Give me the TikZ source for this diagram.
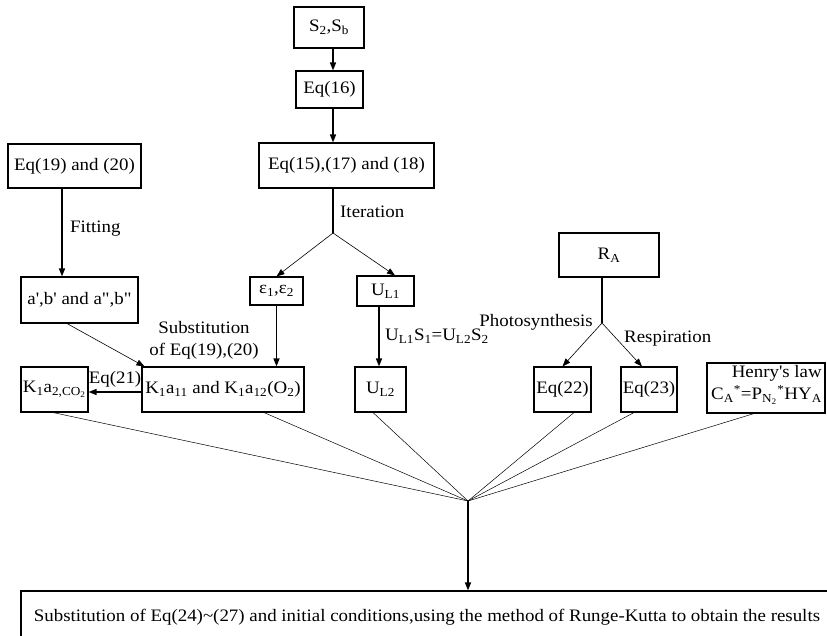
\documentclass[tikz,border=0pt]{standalone}
\usepackage{fontspec}
\setmainfont{Liberation Serif}[FakeStretch=1.08, Ligatures=TeXOff]
\usetikzlibrary{arrows.meta}
\begin{document}
\begin{tikzpicture}[x=1pt,y=-1pt,
  font=\fontsize{17.5}{22}\selectfont,
  box/.style={draw, line width=1.1pt, inner sep=0pt, align=center},
  thk/.style={line width=1.3pt, -{Triangle[length=8pt,width=6pt]}},
  thkline/.style={line width=1.3pt},
  thn/.style={line width=0.6pt, -{Triangle[length=8pt,width=6pt]}},
  thnline/.style={line width=0.5pt},
  lbl/.style={inner sep=0pt}]
\useasboundingbox (0,0) rectangle (827,636);
\clip (0,0) rectangle (827,636);
\fill[white] (0,0) rectangle (827,636);

% boxes
\node[box, minimum width=70pt, minimum height=41pt] (s2sb) at (329,27.5) {S\textsubscript{2},S\textsubscript{b}};
\node[box, minimum width=67pt, minimum height=37pt] (eq16) at (329.5,89.5) {Eq(16)};
\node[box, minimum width=175pt, minimum height=45pt] (eq15) at (346.5,165.5) {Eq(15),(17) and (18)};
\node[box, minimum width=133pt, minimum height=44pt] (eq19) at (74.5,166) {Eq(19) and (20)};
\node[box, minimum width=117pt, minimum height=46pt] (ab) at (79.5,300) {a',b' and a",b"};
\node[box, minimum width=53pt, minimum height=28pt] (eps) at (276.5,291) {ε\textsubscript{1},ε\textsubscript{2}};
\node[box, minimum width=57pt, minimum height=30pt] (ul1) at (385.5,291) {U\textsubscript{L1}};
\node[box, minimum width=100pt, minimum height=44pt] (ra) at (609,255) {R\textsubscript{A}};
\node[box, minimum width=67pt, minimum height=45pt] (k2) at (54.5,389.5) {K\textsubscript{1}a\textsubscript{2,CO\textsubscript{2}}};
\node[box, minimum width=162pt, minimum height=45pt] (k11) at (223,389.5) {K\textsubscript{1}a\textsubscript{11} and K\textsubscript{1}a\textsubscript{12}(O\textsubscript{2})};
\node[box, minimum width=51pt, minimum height=45pt] (ul2) at (380.5,389.5) {U\textsubscript{L2}};
\node[box, minimum width=57pt, minimum height=45pt] (eq22) at (562.5,389.5) {Eq(22)};
\node[box, minimum width=56pt, minimum height=45pt] (eq23) at (649,389.5) {Eq(23)};
\node[box, minimum width=118pt, minimum height=50pt] (henry) at (766,388) {};
\node[lbl, anchor=east, align=right] (henrytxt) at (822,385) {Henry's law\\C\textsubscript{A}\textsuperscript{*}=P\textsubscript{N\textsubscript{2}}\textsuperscript{*}HY\textsubscript{A}};
\node[box, minimum width=812pt, minimum height=52pt] (final) at (427,617) {Substitution of Eq(24)\textasciitilde(27) and initial conditions,using the method of Runge-Kutta to obtain the results};

% labels
\node[lbl, anchor=west] (fit) at (70,229) {Fitting};
\node[lbl, anchor=west] (iter) at (340,212) {Iteration};
\node[lbl, anchor=west] (ulrel) at (385,336) {U\textsubscript{L1}S\textsubscript{1}=U\textsubscript{L2}S\textsubscript{2}};
\node[lbl, anchor=east] (photo) at (593,322) {Photosynthesis};
\node[lbl, anchor=west] (resp) at (624,339) {Respiration};
\node[lbl, align=center] (subst) at (204,340) {Substitution\\of Eq(19),(20)};
\node[lbl] (eq21) at (115,379) {Eq(21)};

% helper coordinates
\coordinate (x333) at (333,0);
\coordinate (x62) at (62,0);
\coordinate (x67) at (67,0);
\coordinate (x395) at (395,0);
\coordinate (x379) at (379,0);
\coordinate (x602) at (602,0);
\coordinate (x642) at (642,0);
\coordinate (y392) at (0,392);
\coordinate (it) at (333,233);
\coordinate (rb) at (602,323);
\coordinate (cv) at (468,501);
\coordinate (x53) at (53,0);
\coordinate (x264) at (264,0);
\coordinate (x373) at (373,0);
\coordinate (x574) at (574,0);
\coordinate (x634) at (634,0);
\coordinate (x754) at (754,0);

% connectors
\draw[thk] (s2sb.south -| x333) -- (eq16.north -| x333);
\draw[thk] (eq16.south -| x333) -- (eq15.north -| x333);
\draw[thkline] (eq15.south -| x333) -- (it);
\draw[thn] (it) -- (eps.north);
\draw[thn] (it) -- (ul1.north -| x395);
\draw[thk] (eq19.south -| x62) -- (ab.north -| x62);
\draw[thk] (eps.south) -- (eps.south |- k11.north);
\draw[thk] (ul1.south -| x379) -- (ul2.north -| x379);
\draw[thn] (ab.south -| x67) -- ([xshift=3pt]k11.north west);
\draw[thk] (k11.west |- y392) -- (k2.east |- y392);
\draw[thkline] (ra.south -| x602) -- (rb);
\draw[thn] (rb) -- (eq22.north);
\draw[thn] (rb) -- (eq23.north -| x642);

\draw[thnline] (k2.south -| x53) -- (cv);
\draw[thnline] (k11.south -| x264) -- (cv);
\draw[thnline] (ul2.south -| x373) -- (cv);
\draw[thnline] (eq22.south -| x574) -- (cv);
\draw[thnline] (eq23.south -| x634) -- (cv);
\draw[thnline] (henry.south -| x754) -- (cv);
\draw[thk] (cv) -- (final.north -| cv);
\end{tikzpicture}
\end{document}
